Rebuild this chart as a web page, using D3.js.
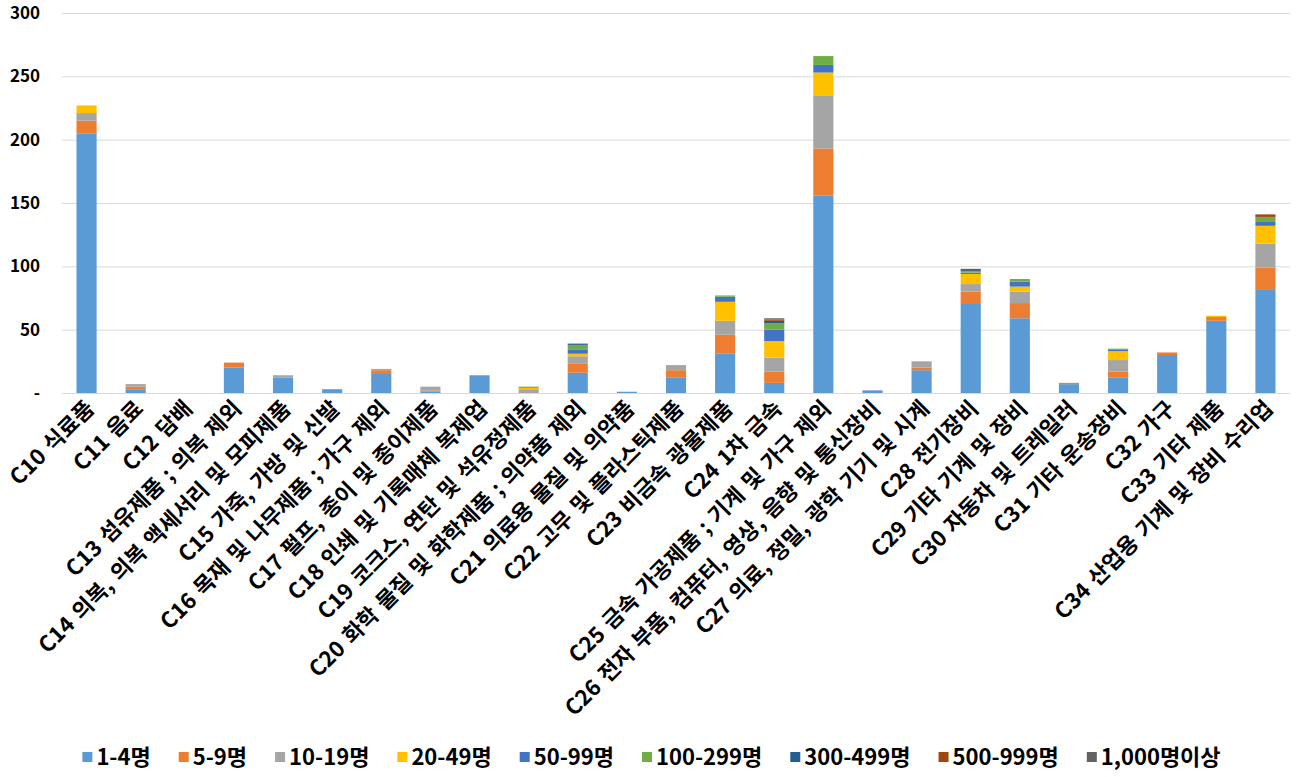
<!DOCTYPE html>
<html>
<head>
<meta charset="utf-8">
<script src="https://cdn.jsdelivr.net/npm/d3@7"></script>
<style>
  body { margin: 0; background: #fff; }
  text { font-family: "Malgun Gothic", "Noto Sans CJK KR", sans-serif; font-weight: bold; fill: #000; }
</style>
</head>
<body>
<svg id="chart" width="1299" height="777"></svg>
<script>
// industries (x categories)
const categories = [
    "C10 식료품", "C11 음료", "C12 담배", "C13 섬유제품 ; 의복 제외",
    "C14 의복, 의복 액세서리 및 모피제품", "C15 가죽, 가방 및 신발",
    "C16 목재 및 나무제품 ; 가구 제외", "C17 펄프, 종이 및 종이제품",
    "C18 인쇄 및 기록매체 복제업", "C19 코크스, 연탄 및 석유정제품",
    "C20 화학 물질 및 화학제품 ; 의약품 제외", "C21 의료용 물질 및 의약품",
    "C22 고무 및 플라스틱제품", "C23 비금속 광물제품", "C24 1차 금속",
    "C25 금속 가공제품 ; 기계 및 가구 제외",
    "C26 전자 부품, 컴퓨터, 영상, 음향 및 통신장비",
    "C27 의료, 정밀, 광학 기기 및 시계", "C28 전기장비", "C29 기타 기계 및 장비",
    "C30 자동차 및 트레일러", "C31 기타 운송장비", "C32 가구", "C33 기타 제품",
    "C34 산업용 기계 및 장비 수리업"
];

// size classes (stack order, bottom to top)
const sizeClasses = ["1-4명", "5-9명", "10-19명", "20-49명", "50-99명",
    "100-299명", "300-499명", "500-999명", "1,000명이상"];

// one array per size class, same order as categories
const s1to4     = [205, 3, 0, 20, 12, 3, 15, 1, 14, 0, 16, 1, 12, 31, 8, 156, 1, 18, 71, 59, 7, 12, 30, 57, 82];
const s5to9     = [10, 2, 0, 4, 0, 0, 3, 1, 0, 0, 7, 0, 6, 15, 9, 37, 0, 2, 9, 12, 1, 5, 2, 3, 17];
const s10to19   = [6, 2, 0, 0, 2, 0, 1, 3, 0, 3, 6, 0, 4, 11, 11, 42, 0, 5, 6, 9, 0, 9, 0, 0, 19];
const s20to49   = [6, 0, 0, 0, 0, 0, 0, 0, 0, 1, 2, 0, 0, 15, 13, 18, 0, 0, 8, 4, 0, 7, 0, 1, 14];
const s50to99   = [0, 0, 0, 0, 0, 0, 0, 0, 0, 0, 3, 0, 0, 4, 9, 6, 1, 0, 1, 4, 0, 1, 0, 0, 3];
const s100to299 = [0, 0, 0, 0, 0, 0, 0, 0, 0, 1, 4, 0, 0, 1, 5, 7, 0, 0, 1, 2, 0, 1, 0, 0, 4];
const s300to499 = [0, 0, 0, 0, 0, 0, 0, 0, 0, 0, 1, 0, 0, 0, 2, 0, 0, 0, 1, 0, 0, 0, 0, 0, 0];
const s500to999 = [0, 0, 0, 0, 0, 0, 0, 0, 0, 0, 0, 0, 0, 0, 1, 0, 0, 0, 1, 0, 0, 0, 0, 0, 2];
const s1000plus = [0, 0, 0, 0, 0, 0, 0, 0, 0, 0, 0, 0, 0, 0, 1, 0, 0, 0, 0, 0, 0, 0, 0, 0, 0];

const yTicks = [0, 50, 100, 150, 200, 250, 300];

const colors = ["#5B9BD5", "#ED7D31", "#A5A5A5", "#FFC000", "#4472C4",
    "#70AD47", "#255E91", "#9E480E", "#636363"];

const seriesValues = [s1to4, s5to9, s10to19, s20to49, s50to99,
    s100to299, s300to499, s500to999, s1000plus];

// rows for d3.stack
const rows = categories.map((c, i) => {
    const row = { cat: c };
    sizeClasses.forEach((k, j) => { row[k] = seriesValues[j][i]; });
    return row;
});

const svg = d3.select("#chart");
const plotLeft = 62, plotRight = 1290, plotTop = 13, plotBottom = 393;

const x = d3.scaleBand()
    .domain(categories)
    .range([plotLeft, plotRight])
    .paddingInner(0.59)
    .paddingOuter(0.295);

const y = d3.scaleLinear().domain([0, 300]).range([plotBottom, plotTop]);

// gridlines
svg.append("g")
    .attr("transform", `translate(${plotLeft},0)`)
    .call(d3.axisLeft(y).tickValues(yTicks).tickSize(-(plotRight - plotLeft)).tickFormat(""))
    .call(g => g.select(".domain").remove())
    .call(g => g.selectAll("line").attr("stroke", "#d9d9d9").attr("stroke-width", 1));

// y labels
svg.append("g")
    .attr("transform", `translate(40,0)`)
    .call(d3.axisLeft(y).tickValues(yTicks).tickSize(0).tickPadding(0)
        .tickFormat(d => d === 0 ? "-" : d))
    .call(g => g.select(".domain").remove())
    .call(g => g.selectAll("text").style("font-size", "17px"));

// stacked bars
const stacked = d3.stack().keys(sizeClasses)(rows);

svg.append("g")
    .selectAll("g")
    .data(stacked)
    .join("g")
    .attr("fill", (d, i) => colors[i])
    .selectAll("rect")
    .data(d => d)
    .join("rect")
    .attr("x", d => x(d.data.cat))
    .attr("width", x.bandwidth())
    .attr("y", d => y(d[1]))
    .attr("height", d => y(d[0]) - y(d[1]));

// x labels, rotated
svg.append("g")
    .selectAll("text")
    .data(categories)
    .join("text")
    .attr("transform", d => `translate(${x(d) + x.bandwidth() / 2 + 9},${plotBottom + 17}) rotate(-45)`)
    .attr("text-anchor", "end")
    .style("font-size", "22px")
    .style("word-spacing", "2px")
    .text(d => d);

// legend
const legend = svg.append("g").attr("transform", "translate(0,757)");
const items = legend.selectAll("g")
    .data(sizeClasses)
    .join("g");
items.append("rect")
    .attr("width", 10).attr("height", 10)
    .attr("y", -5)
    .attr("fill", (d, i) => colors[i]);
items.append("text")
    .attr("x", 14)
    .attr("dy", "0.35em")
    .style("font-size", "22px")
    .text(d => d);

const widths = [];
items.each(function () {
    widths.push(this.querySelector("text").getComputedTextLength() + 14);
});
const gap = 28;
const total = d3.sum(widths) + gap * (widths.length - 1);
let cursor = (1299 - total) / 2 + 2;
items.attr("transform", (d, i) => {
    const t = `translate(${cursor},0)`;
    cursor += widths[i] + gap;
    return t;
});
</script>
</body>
</html>
